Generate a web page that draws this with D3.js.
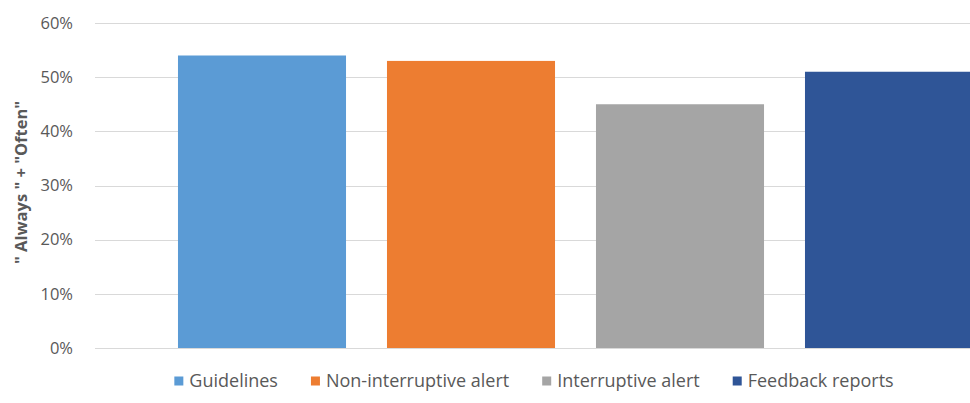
<!DOCTYPE html>
<html>
<head>
<meta charset="utf-8">
<script src="https://cdn.jsdelivr.net/npm/d3@7"></script>
<style>
  body { margin: 0; background: #fff; }
  svg { display: block; font-family: 'Open Sans', sans-serif; }
</style>
</head>
<body>
<div id="chart"></div>
<script>
const categories = ['Guidelines', 'Non-interruptive alert', 'Interruptive alert', 'Feedback reports'];
const values = [0.54, 0.53, 0.45, 0.51];
const colors = ['#5b9bd5', '#ed7d31', '#a5a5a5', '#2f5597'];
const yTicks = [0, 0.1, 0.2, 0.3, 0.4, 0.5, 0.6];
const yTitle = '" Always " + "Often"';

const width = 970, height = 403;
const plot = { left: 95, top: 23, bottom: 348 };

const svg = d3.select('#chart').append('svg')
  .attr('width', width)
  .attr('height', height);

const y = d3.scaleLinear().domain([0, 0.6]).range([plot.bottom, plot.top]);
// plot area runs off the right edge of the picture
const x = d3.scaleBand()
  .domain(categories)
  .range([157.5, 993.5])
  .paddingInner(0.196)
  .paddingOuter(0.098);

// gridlines
svg.append('g')
  .selectAll('line')
  .data(yTicks)
  .join('line')
  .attr('x1', plot.left)
  .attr('x2', width)
  .attr('y1', d => Math.round(y(d)) + 0.5)
  .attr('y2', d => Math.round(y(d)) + 0.5)
  .attr('stroke', '#d9d9d9')
  .attr('stroke-width', 1);

// tick labels
svg.append('g')
  .selectAll('text')
  .data(yTicks)
  .join('text')
  .attr('x', 73)
  .attr('y', d => y(d))
  .attr('dy', '0.35em')
  .attr('text-anchor', 'end')
  .attr('fill', '#595959')
  .style('font-size', '16.5px')
  .text(d3.format('.0%'));

// bars
svg.append('g')
  .selectAll('rect')
  .data(categories)
  .join('rect')
  .attr('x', d => x(d))
  .attr('width', x.bandwidth())
  .attr('y', (d, i) => y(values[i]))
  .attr('height', (d, i) => y(0) - y(values[i]))
  .attr('fill', (d, i) => colors[i]);

// y title
svg.append('text')
  .attr('transform', 'translate(21,' + ((plot.top + plot.bottom) / 2 - 3) + ') rotate(-90)')
  .attr('text-anchor', 'middle')
  .attr('dy', '0.35em')
  .attr('fill', '#595959')
  .style('font-size', '16.5px')
  .style('font-weight', 'bold')
  .text(yTitle);

// legend, centred under the chart
const legend = svg.append('g');
const items = legend.selectAll('g')
  .data(categories)
  .join('g');
items.append('rect')
  .attr('width', 9)
  .attr('height', 9)
  .attr('y', -4.5)
  .attr('fill', (d, i) => colors[i]);
items.append('text')
  .attr('x', 15)
  .attr('dy', '0.35em')
  .attr('fill', '#595959')
  .style('font-size', '18px')
  .text(d => d);
let cx = 0;
items.each(function () {
  d3.select(this).attr('transform', 'translate(' + cx + ',0)');
  cx += 15 + d3.select(this).select('text').node().getComputedTextLength() + 33;
});
const legendW = cx - 33;
legend.attr('transform', 'translate(' + (534 - legendW / 2) + ',381)');
</script>
</body>
</html>
